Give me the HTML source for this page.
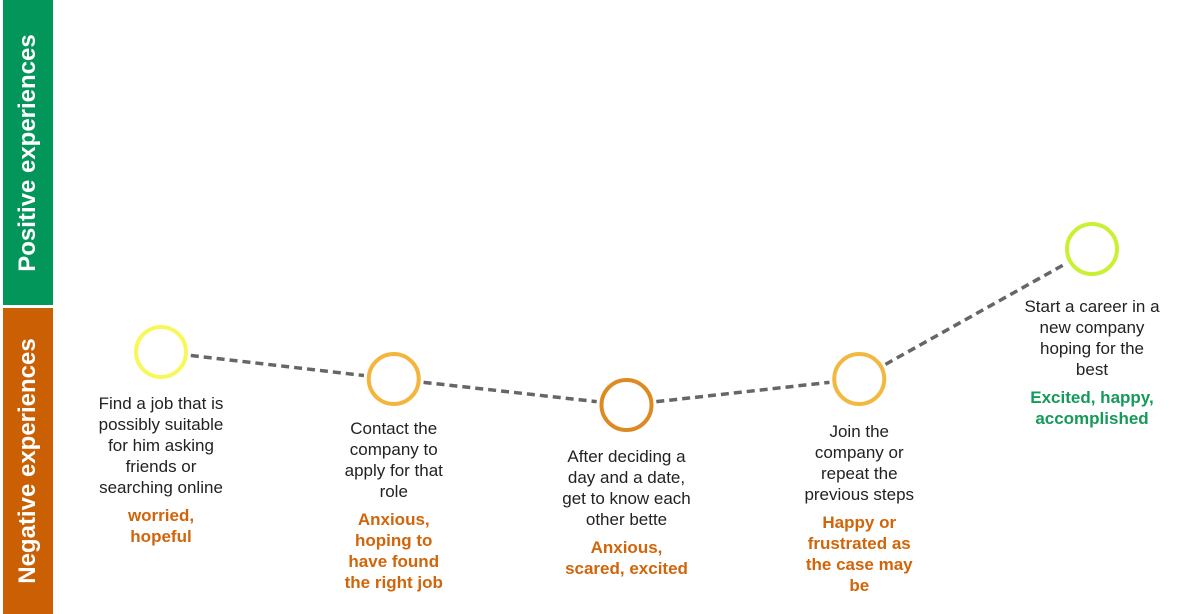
<!DOCTYPE html>
<html><head><meta charset="utf-8">
<style>
body{margin:0;width:1200px;height:614px;background:#fff;position:relative;overflow:hidden;font-family:"Liberation Sans",sans-serif}
.bar{position:absolute;left:3px;width:50px}
.bar span{position:absolute;left:50%;top:50%;transform:translate(-50%,-50%) rotate(-90deg);white-space:nowrap;color:#fff;font-weight:bold;font-size:24px}
.step{position:absolute;width:190px;text-align:center;font-size:17px;line-height:21px;color:#222}
.emo{font-weight:bold;margin-top:7px}
</style></head><body>
<div class="bar" style="top:0;height:305px;background:#03965a"><span>Positive experiences</span></div>
<div class="bar" style="top:308px;height:306px;background:#ca5f04"><span>Negative experiences</span></div>
<svg id="chart" width="1200" height="614" style="position:absolute;left:0;top:0"></svg>
<div id="labels"></div>
<script>
const steps=["Find a job that is<br>possibly suitable<br>for him asking<br>friends or<br>searching online","Contact the<br>company to<br>apply for that<br>role","After deciding a<br>day and a date,<br>get to know each<br>other bette","Join the<br>company or<br>repeat the<br>previous steps","Start a career in a<br>new company<br>hoping for the<br>best"];
const emotions=["worried,<br>hopeful","Anxious,<br>hoping to<br>have found<br>the right job","Anxious,<br>scared, excited","Happy or<br>frustrated as<br>the case may<br>be","Excited, happy,<br>accomplished"];
const sentiment=[-47,-74,-100,-74,56];
const colors=["#f8f85a","#f5b53c","#de8a22","#f3b842","#c9f032"];
const emoColors=["#d0650a","#d0650a","#d0650a","#d0650a","#159a5a"];
const labelGap=[41,39,41,42,47];
const xs=i=>161+i*232.75;
const ys=v=>305-v;
const svg=document.getElementById('chart');
const NS="http://www.w3.org/2000/svg";
const R=27;
for(let i=0;i<sentiment.length-1;i++){
  const x1=xs(i),y1=ys(sentiment[i]),x2=xs(i+1),y2=ys(sentiment[i+1]);
  const d=Math.hypot(x2-x1,y2-y1),ux=(x2-x1)/d,uy=(y2-y1)/d;
  const l=document.createElementNS(NS,'line');
  l.setAttribute('x1',x1+ux*(R+3));l.setAttribute('y1',y1+uy*(R+3));
  l.setAttribute('x2',x2-ux*(R+3));l.setAttribute('y2',y2-uy*(R+3));
  l.setAttribute('stroke','#666');l.setAttribute('stroke-width','3.5');l.setAttribute('stroke-dasharray','8 5');
  
  
  svg.appendChild(l);
}
const lab=document.getElementById('labels');
sentiment.forEach((v,i)=>{
  const c=document.createElementNS(NS,'circle');
  c.setAttribute('cx',xs(i));c.setAttribute('cy',ys(v));c.setAttribute('r',R-2);
  c.setAttribute('fill','#fff');c.setAttribute('stroke',colors[i]);c.setAttribute('stroke-width','4');
  
  
  svg.appendChild(c);
  const d=document.createElement('div');
  d.className='step';
  d.style.left=(xs(i)-95)+'px';
  d.style.top=(ys(v)+labelGap[i])+'px';
  d.innerHTML=steps[i]+'<div class="emo" style="color:'+emoColors[i]+'">'+emotions[i]+'</div>';
  
  
  lab.appendChild(d);
});
</script>
</body></html>
